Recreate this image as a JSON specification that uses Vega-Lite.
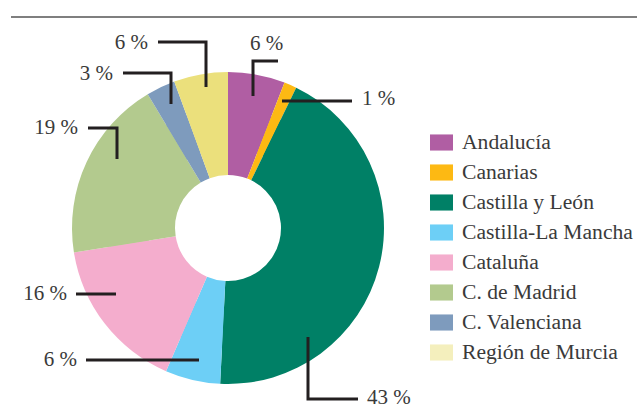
{
  "$schema": "https://vega.github.io/schema/vega-lite/v6.json",
  "width": 637,
  "height": 414,
  "padding": 0,
  "autosize": "none",
  "background": "white",
  "config": {"view": {"stroke": null}, "font": "Liberation Serif"},
  "datasets": {
    "regions": [
      {"idx": 1, "region": "Andalucía", "share": 5.9, "label": "6 %"},
      {"idx": 2, "region": "Canarias", "share": 1.3, "label": "1 %"},
      {"idx": 3, "region": "Castilla y León", "share": 43.6, "label": "43 %"},
      {"idx": 4, "region": "Castilla-La Mancha", "share": 5.7, "label": "6 %"},
      {"idx": 5, "region": "Cataluña", "share": 16.0, "label": "16 %"},
      {"idx": 6, "region": "C. de Madrid", "share": 18.9, "label": "19 %"},
      {"idx": 7, "region": "C. Valenciana", "share": 3.0, "label": "3 %"},
      {"idx": 8, "region": "Región de Murcia", "share": 5.6, "label": "6 %"}
    ],
    "leaders": [
      {"region": "Región de Murcia", "step": 1, "x": -70, "y": 186},
      {"region": "Región de Murcia", "step": 2, "x": -22, "y": 186},
      {"region": "Región de Murcia", "step": 3, "x": -22, "y": 141},
      {"region": "Andalucía", "step": 1, "x": 50, "y": 167},
      {"region": "Andalucía", "step": 2, "x": 25, "y": 167},
      {"region": "Andalucía", "step": 3, "x": 25, "y": 132},
      {"region": "Canarias", "step": 1, "x": 54, "y": 127},
      {"region": "Canarias", "step": 2, "x": 124, "y": 127},
      {"region": "C. Valenciana", "step": 1, "x": -105, "y": 155},
      {"region": "C. Valenciana", "step": 2, "x": -57, "y": 155},
      {"region": "C. Valenciana", "step": 3, "x": -57, "y": 124},
      {"region": "C. de Madrid", "step": 1, "x": -140, "y": 100},
      {"region": "C. de Madrid", "step": 2, "x": -111, "y": 100},
      {"region": "C. de Madrid", "step": 3, "x": -111, "y": 69},
      {"region": "Cataluña", "step": 1, "x": -152, "y": -66},
      {"region": "Cataluña", "step": 2, "x": -112, "y": -66},
      {"region": "Castilla-La Mancha", "step": 1, "x": -142, "y": -132},
      {"region": "Castilla-La Mancha", "step": 2, "x": -29, "y": -132},
      {"region": "Castilla y León", "step": 1, "x": 80, "y": -109},
      {"region": "Castilla y León", "step": 2, "x": 80, "y": -171},
      {"region": "Castilla y León", "step": 3, "x": 130, "y": -171}
    ],
    "labels": [
      {"region": "Región de Murcia", "label": "6 %", "side": "left", "x": -80, "y": 185},
      {"region": "Andalucía", "label": "6 %", "side": "right", "x": 22, "y": 184},
      {"region": "Canarias", "label": "1 %", "side": "right", "x": 134, "y": 129},
      {"region": "C. Valenciana", "label": "3 %", "side": "left", "x": -115, "y": 154.5},
      {"region": "C. de Madrid", "label": "19 %", "side": "left", "x": -150, "y": 100.5},
      {"region": "Cataluña", "label": "16 %", "side": "left", "x": -161, "y": -66},
      {"region": "Castilla-La Mancha", "label": "6 %", "side": "left", "x": -151, "y": -132},
      {"region": "Castilla y León", "label": "43 %", "side": "right", "x": 139, "y": -169.5}
    ]
  },
  "layer": [
    {
      "data": {"values": [{"x": -217, "x2": 409, "y": 211}]},
      "mark": {"type": "rule", "stroke": "#555555", "strokeWidth": 1.5},
      "encoding": {
        "x": {"field": "x", "type": "quantitative", "scale": {"domain": [-228, 409], "nice": false, "zero": false}, "axis": null},
        "x2": {"field": "x2"},
        "y": {"field": "y", "type": "quantitative", "scale": {"domain": [-186, 228], "nice": false, "zero": false}, "axis": null}
      }
    },
    {
      "data": {"name": "regions"},
      "mark": {"type": "arc", "outerRadius": 120, "innerRadius": 80},
      "encoding": {
        "x": {"datum": 0, "type": "quantitative", "scale": {"domain": [-228, 409], "nice": false, "zero": false}, "axis": null},
        "y": {"datum": 0, "type": "quantitative", "scale": {"domain": [-186, 228], "nice": false, "zero": false}, "axis": null},
        "theta": {"field": "share", "type": "quantitative", "stack": true},
        "order": {"field": "idx", "type": "quantitative"},
        "color": {
          "field": "region", "type": "nominal",
          "scale": {
            "domain": ["Andalucía", "Canarias", "Castilla y León", "Castilla-La Mancha", "Cataluña", "C. de Madrid", "C. Valenciana", "Región de Murcia"],
            "range": ["#b05ea3", "#fdb913", "#008066", "#6dcff6", "#f4adcd", "#b3ca8e", "#7e9bbd", "#f4efbd"]
          },
          "legend": {
            "orient": "none", "legendX": 430, "legendY": 131, "title": null, "padding": 0,
            "symbolType": "M-1,-0.7L1,-0.7L1,0.7L-1,0.7Z", "symbolSize": 529, "symbolStrokeWidth": 0,
            "labelFont": "Liberation Serif", "labelFontSize": 21.6, "labelColor": "#3a3a3a",
            "labelOffset": 9, "labelLimit": 300, "rowPadding": 7
          }
        }
      }
    },
    {
      "data": {"name": "regions"},
      "mark": {"type": "arc", "outerRadius": 156, "innerRadius": 53},
      "encoding": {
        "x": {"datum": 0, "type": "quantitative", "scale": {"domain": [-228, 409], "nice": false, "zero": false}, "axis": null},
        "y": {"datum": 0, "type": "quantitative", "scale": {"domain": [-186, 228], "nice": false, "zero": false}, "axis": null},
        "theta": {"field": "share", "type": "quantitative", "stack": true},
        "order": {"field": "idx", "type": "quantitative"},
        "color": {
          "field": "region", "type": "nominal",
          "scale": {
            "domain": ["Andalucía", "Canarias", "Castilla y León", "Castilla-La Mancha", "Cataluña", "C. de Madrid", "C. Valenciana", "Región de Murcia"],
            "range": ["#b05ea3", "#fdb913", "#008066", "#6dcff6", "#f4adcd", "#b3ca8e", "#7e9bbd", "#ebe07c"]
          },
          "legend": null
        }
      }
    },
    {
      "data": {"name": "leaders"},
      "mark": {"type": "line", "stroke": "#231f20", "strokeWidth": 3, "strokeJoin": "miter", "strokeCap": "butt"},
      "encoding": {
        "x": {"field": "x", "type": "quantitative", "scale": {"domain": [-228, 409], "nice": false, "zero": false}, "axis": null},
        "y": {"field": "y", "type": "quantitative", "scale": {"domain": [-186, 228], "nice": false, "zero": false}, "axis": null},
        "detail": {"field": "region"},
        "order": {"field": "step", "type": "quantitative"}
      }
    },
    {
      "data": {"name": "labels"},
      "transform": [{"filter": "datum.side === 'left'"}],
      "mark": {"type": "text", "align": "right", "baseline": "middle", "font": "Liberation Serif", "fontSize": 21, "color": "#3a3a3a"},
      "encoding": {
        "x": {"field": "x", "type": "quantitative", "scale": {"domain": [-228, 409], "nice": false, "zero": false}, "axis": null},
        "y": {"field": "y", "type": "quantitative", "scale": {"domain": [-186, 228], "nice": false, "zero": false}, "axis": null},
        "text": {"field": "label"}
      }
    },
    {
      "data": {"name": "labels"},
      "transform": [{"filter": "datum.side === 'right'"}],
      "mark": {"type": "text", "align": "left", "baseline": "middle", "font": "Liberation Serif", "fontSize": 21, "color": "#3a3a3a"},
      "encoding": {
        "x": {"field": "x", "type": "quantitative", "scale": {"domain": [-228, 409], "nice": false, "zero": false}, "axis": null},
        "y": {"field": "y", "type": "quantitative", "scale": {"domain": [-186, 228], "nice": false, "zero": false}, "axis": null},
        "text": {"field": "label"}
      }
    }
  ],
  "resolve": {"scale": {"color": "independent"}}
}
